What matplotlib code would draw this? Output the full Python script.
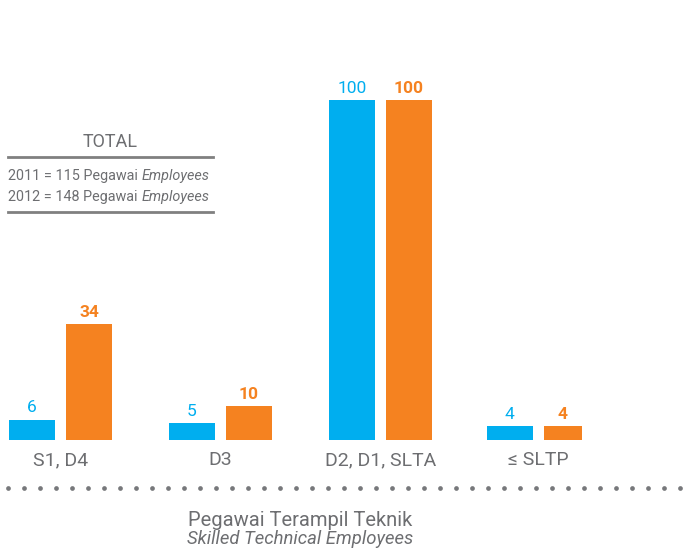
import numpy as np
import matplotlib.pyplot as plt
from matplotlib.lines import Line2D

categories = ["S1, D4", "D3", "D2, D1, SLTA", "\u2264 SLTP"]
employees_2011 = [6, 5, 100, 4]
employees_2012 = [34, 10, 100, 4]

total_title = "TOTAL"
total_lines = [("2011 = 115 Pegawai ", "Employees"),
               ("2012 = 148 Pegawai ", "Employees")]
chart_title = "Pegawai Terampil Teknik"
chart_subtitle = "Skilled Technical Employees"

BLUE = "#00aeef"
ORANGE = "#f58220"
GRAY = "#6d6e71"
plt.rcParams["font.family"] = ["Roboto", "DejaVu Sans"]

W, H = 689, 548
fig = plt.figure(figsize=(W / 100, H / 100), dpi=100)


def fx(x):
    return x / W


def fy(y):
    return 1 - y / H


# axes: baseline at y=440px, value 100 at y=100px
ax = fig.add_axes([0, fy(440), 1, (440 - 100) / H])
unit = 160.0  # px per group
ax.set_xlim(-60.5 / unit, (W - 60.5) / unit)
ax.set_ylim(0, 100)

x = np.arange(len(categories)) * np.array([1, 1, 1, 0.995])
gap = 5.5 / unit
bw = 46 / unit
orange_w = [bw, bw, bw, 38 / unit]

b1 = ax.bar(x - gap, employees_2011, width=-bw, align="edge", color=BLUE)
b2 = ax.bar(x + gap, employees_2012, width=orange_w, align="edge", color=ORANGE)
ax.bar_label(b1, padding=3, color=BLUE, fontsize=12.5)
ax.bar_label(b2, padding=3, color=ORANGE, fontsize=12.5, fontweight="bold")

ax.set_xticks(x, categories)
ax.tick_params(axis="x", length=0, pad=8, labelsize=14, labelcolor=GRAY)
ax.set_yticks([])
for s in ax.spines.values():
    s.set_visible(False)
ax.patch.set_visible(False)

# dotted separator
dots = np.arange(8, 682, 16)
fig.add_artist(Line2D(fx(dots), np.full(len(dots), fy(488)), transform=fig.transFigure,
                      linestyle="none", marker="o", markersize=3.4,
                      color="#77787b", markeredgewidth=0))

# titles
fig.text(fx(300), fy(520), chart_title, ha="center", va="center",
         fontsize=14.5, color=GRAY)
fig.text(fx(300), fy(539), chart_subtitle, ha="center", va="center",
         fontsize=13.3, color=GRAY, style="italic")

# TOTAL box
fig.text(fx(110), fy(142), total_title, ha="center", va="center",
         fontsize=13, color=GRAY)
for yy in (157, 212):
    fig.add_artist(Line2D([fx(8), fx(213)], [fy(yy), fy(yy)], transform=fig.transFigure,
                          color="#808080", linewidth=2))
for (plain, ital), yy in zip(total_lines, (176, 197)):
    t = fig.text(fx(8), fy(yy), plain, ha="left", va="center", fontsize=10.4,
                 color=GRAY)
    fig.canvas.draw()
    bb = t.get_window_extent()
    fig.text(bb.x1 / W, fy(yy), ital, ha="left", va="center", fontsize=10.4,
             color=GRAY, style="italic")

fig.savefig("out.png", dpi=100)
